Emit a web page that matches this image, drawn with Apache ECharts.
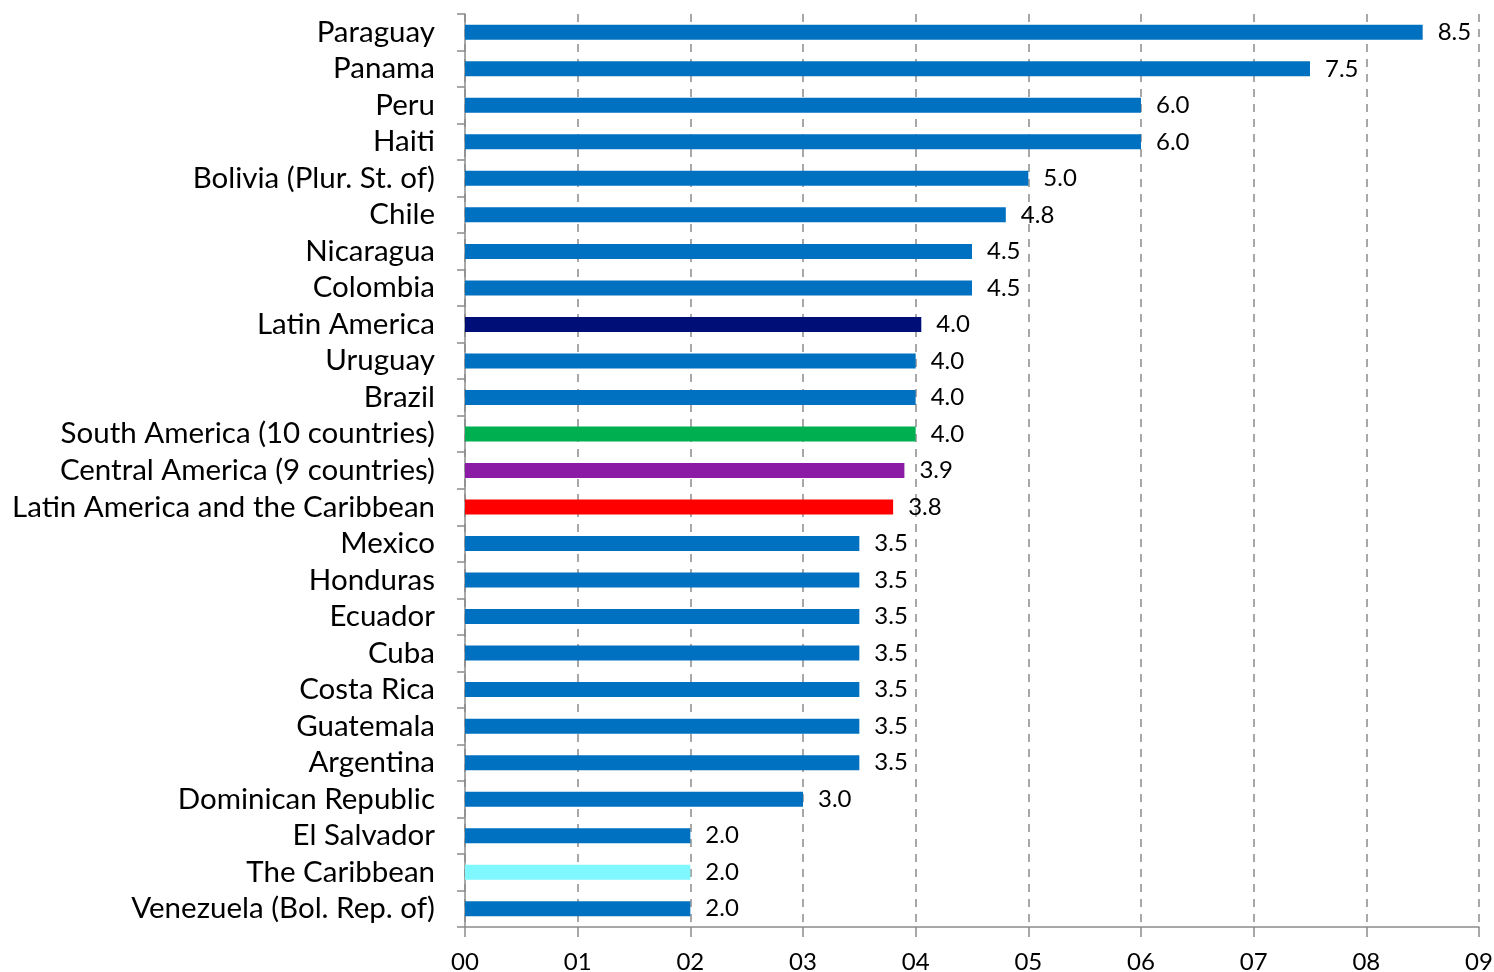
<!DOCTYPE html>
<html><head><meta charset="utf-8">
<script src="https://cdn.jsdelivr.net/npm/echarts@6/dist/echarts.min.js"></script>
<style>html,body{margin:0;padding:0;background:#fff}#c{width:1494px;height:972px}</style>
</head><body><div id="c"></div>
<script>
const categories = ["Paraguay","Panama","Peru","Haiti","Bolivia (Plur. St. of)","Chile","Nicaragua","Colombia","Latin America","Uruguay","Brazil","South America (10 countries)","Central America (9 countries)","Latin America and the Caribbean","Mexico","Honduras","Ecuador","Cuba","Costa Rica","Guatemala","Argentina","Dominican Republic","El Salvador","The Caribbean","Venezuela (Bol. Rep. of)"];
const values = [8.5,7.5,6.0,6.0,5.0,4.8,4.5,4.5,4.05,4.0,4.0,4.0,3.9,3.8,3.5,3.5,3.5,3.5,3.5,3.5,3.5,3.0,2.0,2.0,2.0];
const barColors = ["#0070C0","#0070C0","#0070C0","#0070C0","#0070C0","#0070C0","#0070C0","#0070C0","#000F78","#0070C0","#0070C0","#00B050","#8B1AA5","#FF0000","#0070C0","#0070C0","#0070C0","#0070C0","#0070C0","#0070C0","#0070C0","#0070C0","#0070C0","#7FF7FF","#0070C0"];
const xTicks = ["00","01","02","03","04","05","06","07","08","09"];

const chart = echarts.init(document.getElementById('c'));
const FONT = 'Lato';
chart.setOption({
  animation:false,
  grid:{left:465,right:15,top:14,bottom:45,containLabel:false,outerBoundsMode:'none'},
  xAxis:{type:'value',min:0,max:9,interval:1,
    axisLine:{show:true,lineStyle:{color:'#8c8c8c',width:1.5}},
    axisTick:{show:true,length:10,lineStyle:{color:'#8c8c8c',width:1.5}},
    splitLine:{show:true,lineStyle:{color:'#8c8c8c',type:[8,7],width:1.5}},
    axisLabel:{formatter:v=>xTicks[Math.round(v)],color:'#000',fontFamily:FONT,fontSize:24,margin:23}
  },
  yAxis:{type:'category',data:categories,inverse:true,
    axisLine:{show:true,lineStyle:{color:'#8c8c8c',width:1.5}},
    axisTick:{show:true,length:8,inside:false,interval:0,alignWithLabel:false,lineStyle:{color:'#8c8c8c',width:1.5}},
    axisLabel:{interval:0,hideOverlap:false,color:'#000',fontFamily:FONT,fontSize:29.5,margin:30}
  },
  series:[{type:'bar',barWidth:15,
    data:values.map((v,i)=>({value:v,itemStyle:{color:barColors[i]}})),
    label:{show:true,position:'right',distance:15,color:'#000',fontFamily:FONT,fontSize:24,formatter:p=>p.value.toFixed(1)}
  }]
});
</script></body></html>
